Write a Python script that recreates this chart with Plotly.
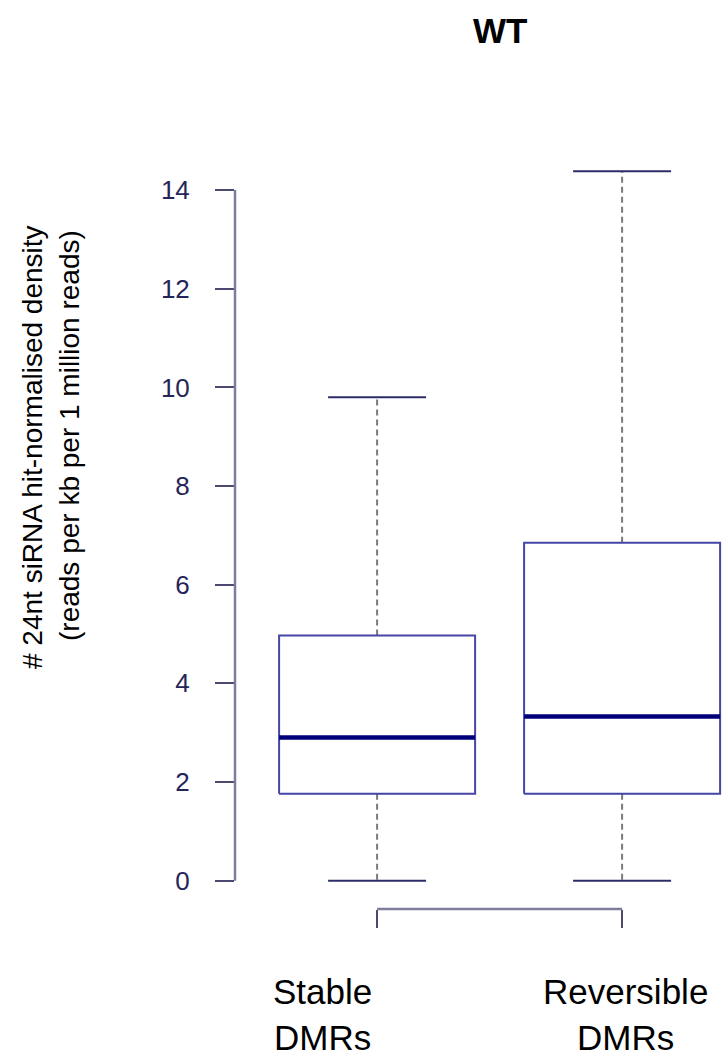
import plotly.graph_objects as go

# ---- data ----
categories = ["Stable<br>DMRs", "Reversible<br>DMRs"]
lower_whisker = [0.0, 0.0]
q1 = [1.76, 1.76]
median = [2.90, 3.33]
q3 = [4.97, 6.85]
upper_whisker = [9.80, 14.38]
y_ticks = [0, 2, 4, 6, 8, 10, 12, 14]
title_text = "WT"
y_title_lines = ["# 24nt siRNA hit-normalised density",
                 "(reads per kb per 1 million reads)"]

# ---- style ----
W, H = 725, 1057
L_M, R_M, T_M, B_M = 235, 0, 143, 148
plot_w = W - L_M - R_M
plot_h = H - T_M - B_M
x_range = [0.42, 0.42 + plot_w / 245.0]
y_lo, y_hi = -0.575, 14.955

BOX_COL = "#4646a6"
MED_COL = "#00007a"
WHISK_COL = "#7a7a7a"
CAP_COL = "#2c2c68"
AXIS_COL = "#7c7c9c"
TICK_COL = "#4a4a70"
TICKLAB_COL = "#25255a"
FONT = "Liberation Sans, Arial, sans-serif"

half_box = 0.4
half_cap = 0.2

fig = go.Figure()
for i, cat in enumerate(categories):
    c = i + 1
    # dashed whiskers
    fig.add_trace(go.Scatter(
        x=[c, c, None, c, c],
        y=[q3[i], upper_whisker[i], None, q1[i], lower_whisker[i]],
        mode="lines", line=dict(color=WHISK_COL, width=2, dash="6px,4px"),
        hoverinfo="skip", showlegend=False))
    # caps
    fig.add_trace(go.Scatter(
        x=[c - half_cap, c + half_cap, None, c - half_cap, c + half_cap],
        y=[upper_whisker[i], upper_whisker[i], None, lower_whisker[i], lower_whisker[i]],
        mode="lines", line=dict(color=CAP_COL, width=2),
        hoverinfo="skip", showlegend=False))
    # box
    fig.add_trace(go.Scatter(
        x=[c - half_box, c + half_box, c + half_box, c - half_box, c - half_box],
        y=[q1[i], q1[i], q3[i], q3[i], q1[i]],
        mode="lines", line=dict(color=BOX_COL, width=2),
        hoverinfo="skip", showlegend=False))
    # median
    fig.add_trace(go.Scatter(
        x=[c - half_box, c + half_box], y=[median[i], median[i]],
        mode="lines", line=dict(color=MED_COL, width=4.5),
        hoverinfo="skip", showlegend=False))

# R-style axis lines (only between first and last ticks)
fig.add_shape(type="line", xref="paper", yref="y", x0=0, x1=0,
              y0=y_ticks[0], y1=y_ticks[-1],
              line=dict(color=AXIS_COL, width=2.5))
fig.add_shape(type="line", xref="x", yref="paper", x0=1, x1=len(categories),
              y0=0, y1=0, line=dict(color=AXIS_COL, width=2.5))

# y-axis title (two centred lines)
fig.add_annotation(text=y_title_lines[0], xref="paper", yref="paper",
                   x=(32 - L_M) / plot_w, y=(H - B_M - 447) / plot_h,
                   xanchor="center", yanchor="middle", textangle=-90,
                   showarrow=False, font=dict(family=FONT, size=28, color="#000000"))
fig.add_annotation(text=y_title_lines[1], xref="paper", yref="paper",
                   x=(69 - L_M) / plot_w, y=(H - B_M - 436) / plot_h,
                   xanchor="center", yanchor="middle", textangle=-90,
                   showarrow=False, font=dict(family=FONT, size=28, color="#000000"))

# category labels
label_x_px = [322, 625]
for i, cat in enumerate(categories):
    fig.add_annotation(text=cat, xref="paper", yref="paper",
                       x=(label_x_px[i] - L_M) / plot_w,
                       y=(H - B_M - 1014) / plot_h,
                       xanchor="center", yanchor="middle", showarrow=False,
                       font=dict(family=FONT, size=35, color="#000000"))

# title
fig.add_annotation(text="<b>" + title_text + "</b>", xref="paper", yref="paper",
                   x=(500 - L_M) / plot_w, y=(H - B_M - 31) / plot_h,
                   xanchor="center", yanchor="middle", showarrow=False,
                   font=dict(family=FONT, size=35, color="#000000"))

fig.update_layout(
    width=W, height=H,
    margin=dict(l=L_M, r=R_M, t=T_M, b=B_M, pad=0),
    paper_bgcolor="white", plot_bgcolor="white",
    showlegend=False,
    xaxis=dict(range=x_range, tickvals=[1, 2], ticktext=["", ""],
               ticks="outside", ticklen=18, tickwidth=2, tickcolor=TICK_COL,
               showgrid=False, zeroline=False, showline=False,
               showticklabels=False, fixedrange=True),
    yaxis=dict(range=[y_lo, y_hi], tickvals=y_ticks,
               ticktext=[str(t) for t in y_ticks],
               ticks="outside", ticklen=19, tickwidth=2, tickcolor=TICK_COL,
               ticklabelstandoff=20,
               tickfont=dict(family=FONT, size=26, color=TICKLAB_COL),
               showgrid=False, zeroline=False, showline=False, fixedrange=True),
)

fig.write_html("out.html")
